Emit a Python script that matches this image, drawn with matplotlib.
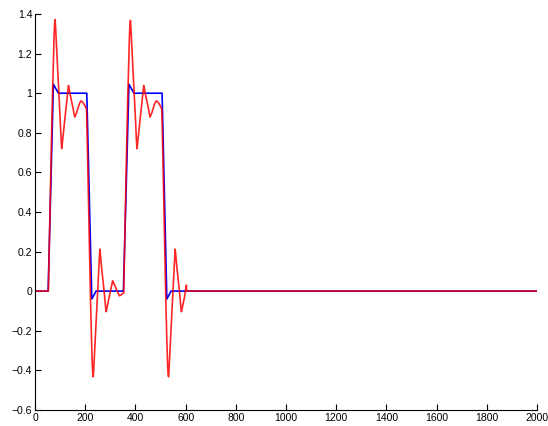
import matplotlib
matplotlib.use("Agg")
import matplotlib.pyplot as plt
from matplotlib.ticker import FuncFormatter

# blue: reference pulse train
blue_x = [0, 52, 73, 93, 206, 226, 243, 352, 374, 394, 506, 525, 542, 2000]
blue_y = [0, 0, 1.045, 1.0, 1.0, -0.04, 0, 0, 1.045, 1.0, 1.0, -0.04, 0, 0]

# red: filtered pulse train (ringing), truncated near 603
red_x = [0, 53, 57, 61, 65, 69, 73, 76, 78, 80,
         82, 86.5, 93, 99.5, 103.8, 106,
         108, 113, 119.5, 126, 131, 133,
         135, 139, 145.5, 152, 156, 158,
         160, 165, 171, 177, 181, 183,
         187, 192, 197, 201, 205,
         209, 213, 217, 221, 225, 228, 230, 232,
         234, 238.5, 245, 251.5, 256, 258,
         260, 264, 270.5, 277, 281, 283,
         285, 289.5, 296, 302.5, 307, 309,
         311, 316, 322.5, 329, 334, 336,
         342, 348, 353,
         357, 361, 365, 369, 373, 376, 378, 380,
         382, 386.5, 393, 399.5, 403.8, 406,
         408, 413, 419.5, 426, 431, 433,
         435, 439, 445.5, 452, 456, 458,
         460, 465, 471, 477, 481, 483,
         487, 492, 497, 501, 505,
         509, 513, 517, 521, 525, 528, 530, 532,
         534, 538.5, 545, 551.5, 556, 558,
         560, 564, 570.5, 577, 581, 583,
         585, 589.5, 596, 601, 603, 603.5, 2000]
red_y = [0, 0, 0.25, 0.5, 0.74, 0.97, 1.17, 1.3, 1.355, 1.372,
         1.328, 1.209, 1.046, 0.883, 0.764, 0.72,
         0.741, 0.80, 0.88, 0.959, 1.018, 1.039,
         1.028, 0.999, 0.96, 0.92, 0.891, 0.88,
         0.885, 0.90, 0.925, 0.948, 0.958, 0.961,
         0.958, 0.951, 0.94, 0.93, 0.92,
         0.70, 0.45, 0.20, -0.05, -0.25, -0.37, -0.42, -0.433,
         -0.39, -0.272, -0.11, 0.051, 0.169, 0.212,
         0.191, 0.133, 0.054, -0.025, -0.083, -0.104,
         -0.094, -0.065, -0.026, 0.013, 0.042, 0.052,
         0.047, 0.033, 0.014, -0.005, -0.019, -0.024,
         -0.02, -0.013, -0.01,
         0.24, 0.49, 0.73, 0.96, 1.16, 1.29, 1.345, 1.368,
         1.326, 1.208, 1.046, 0.883, 0.764, 0.72,
         0.741, 0.80, 0.88, 0.959, 1.018, 1.039,
         1.028, 0.999, 0.96, 0.92, 0.891, 0.88,
         0.885, 0.90, 0.925, 0.948, 0.958, 0.961,
         0.958, 0.951, 0.94, 0.93, 0.92,
         0.70, 0.45, 0.20, -0.05, -0.25, -0.37, -0.42, -0.433,
         -0.39, -0.272, -0.11, 0.051, 0.169, 0.212,
         0.191, 0.133, 0.054, -0.025, -0.083, -0.104,
         -0.094, -0.065, -0.026, 0.018, 0.03, 0, 0]

x_ticks = list(range(0, 2001, 200))
y_ticks = [-0.6, -0.4, -0.2, 0, 0.2, 0.4, 0.6, 0.8, 1.0, 1.2, 1.4]

plt.rcParams['font.family'] = ['Liberation Sans', 'DejaVu Sans']

fig = plt.figure(figsize=(5.48, 4.26), dpi=100)
ax = fig.add_axes([0.064, 0.038, 0.916, 0.929])

ax.plot(blue_x, blue_y, color='blue', lw=1.2, solid_joinstyle='round')
ax.plot(red_x, red_y, color='red', lw=1.2, alpha=0.85, solid_joinstyle='round')

ax.set_xlim(0, 2000)
ax.set_ylim(-0.6, 1.4)
ax.set_xticks(x_ticks)
ax.set_yticks(y_ticks)
ax.yaxis.set_major_formatter(FuncFormatter(lambda v, p: ('%g' % round(v, 2)).replace('-', '\u2212')))

for side in ['top', 'right']:
    ax.spines[side].set_visible(False)
for side in ['left', 'bottom']:
    ax.spines[side].set_linewidth(0.8)
ax.tick_params(direction='in', length=4, width=0.8, labelsize=7.5, pad=2)

fig.savefig('out.png', dpi=100)
